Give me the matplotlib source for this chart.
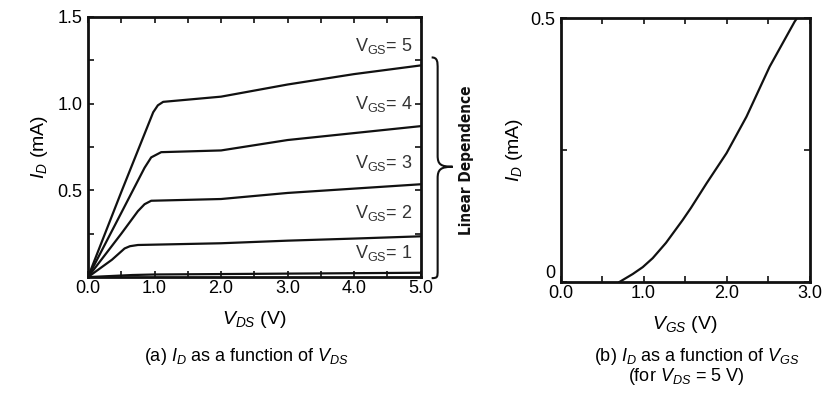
import matplotlib
matplotlib.use('Agg')
import matplotlib.pyplot as plt
from matplotlib.path import Path
from matplotlib.patches import PathPatch
from matplotlib.ticker import MultipleLocator, FixedLocator

plt.rcParams['font.family'] = ['Liberation Sans', 'DejaVu Sans']
plt.rcParams['mathtext.fontset'] = 'custom'
plt.rcParams['mathtext.rm'] = 'Liberation Sans'
plt.rcParams['mathtext.it'] = 'Liberation Sans:italic'

# (a) I_D vs V_DS, one curve per V_GS
vgs_levels = [1, 2, 3, 4, 5]
vds_1 = [0, 0.67, 1.0, 5.0]
id_1 = [0, 0.012, 0.015, 0.025]
vds_2 = [0, 0.36, 0.55, 0.63, 0.75, 2.0, 3.0, 4.0, 5.0]
id_2 = [0, 0.10, 0.165, 0.178, 0.185, 0.195, 0.21, 0.222, 0.235]
vds_3 = [0, 0.5, 0.75, 0.85, 0.95, 2.0, 3.0, 4.0, 5.0]
id_3 = [0, 0.25, 0.38, 0.42, 0.44, 0.45, 0.485, 0.51, 0.535]
vds_4 = [0, 0.5, 0.85, 0.95, 1.1, 2.0, 3.0, 4.0, 5.0]
id_4 = [0, 0.37, 0.63, 0.69, 0.72, 0.73, 0.79, 0.83, 0.87]
vds_5 = [0, 0.5, 0.98, 1.05, 1.13, 2.0, 3.0, 4.0, 5.0]
id_5 = [0, 0.49, 0.95, 0.99, 1.01, 1.04, 1.11, 1.17, 1.22]
label_y = [0.14, 0.37, 0.66, 1.0, 1.33]

# (b) I_D vs V_GS at V_DS = 5 V
vgs_b = [0.71, 0.87, 0.99, 1.11, 1.27, 1.47, 1.57, 1.76, 2.0, 2.24, 2.52, 2.82, 2.85]
id_b = [0, 0.015, 0.028, 0.045, 0.074, 0.117, 0.14, 0.187, 0.244, 0.313, 0.408, 0.493, 0.5]

fig = plt.figure(figsize=(8.38, 4.01), dpi=100)
ink = '#111111'

ax1 = fig.add_axes([0.105, 0.309, 0.397, 0.649])
ax2 = fig.add_axes([0.669, 0.297, 0.297, 0.658])

curves = [(vds_1, id_1), (vds_2, id_2), (vds_3, id_3), (vds_4, id_4), (vds_5, id_5)]
for (x, y) in curves:
    ax1.plot(x, y, color=ink, lw=1.6, solid_joinstyle='round')
for v, ly in zip(vgs_levels, label_y):
    ax1.text(4.88, ly, r'V$_{\rm GS}$= ' + str(v), ha='right', va='center',
             fontsize=13, color='#333333')

ax1.set_xlim(0, 5)
ax1.set_ylim(0, 1.5)
ax1.xaxis.set_major_locator(MultipleLocator(1.0))
ax1.xaxis.set_minor_locator(MultipleLocator(0.5))
ax1.yaxis.set_major_locator(FixedLocator([0.5, 1.0, 1.5]))
ax1.yaxis.set_minor_locator(FixedLocator([0.25, 0.75, 1.25]))
ax1.set_xticklabels(['%.1f' % v for v in ax1.get_xticks()])
ax1.set_xlabel(r'$V_{DS}$ (V)', fontsize=14, labelpad=9)
ax1.set_ylabel(r'$I_D$ (mA)', fontsize=14, labelpad=5)

# brace on the right of panel (a)
verts = [(5.165, 1.266), (5.255, 1.266), (5.255, 1.24), (5.255, 1.20),
         (5.255, 0.70),
         (5.255, 0.65), (5.30, 0.636), (5.48, 0.636),
         (5.30, 0.636), (5.255, 0.62), (5.255, 0.57),
         (5.255, 0.04),
         (5.255, 0.0), (5.255, -0.006), (5.165, -0.006)]
codes = [Path.MOVETO, Path.CURVE4, Path.CURVE4, Path.CURVE4,
         Path.LINETO,
         Path.CURVE4, Path.CURVE4, Path.CURVE4,
         Path.CURVE4, Path.CURVE4, Path.CURVE4,
         Path.LINETO,
         Path.CURVE4, Path.CURVE4, Path.CURVE4]
brace = PathPatch(Path(verts, codes), fill=False, lw=1.5, color=ink,
                  clip_on=False)
ax1.add_patch(brace)
fig.text(0.557, 0.60, 'Linear Dependence', rotation=90, ha='center',
         va='center', fontsize=11, fontweight='bold', fontstretch='condensed',
         family=['DejaVu Sans'], color=ink)

ax2.plot(vgs_b, id_b, color=ink, lw=1.6, solid_joinstyle='round')
ax2.set_xlim(0, 3)
ax2.set_ylim(0, 0.5)
ax2.xaxis.set_major_locator(MultipleLocator(1.0))
ax2.xaxis.set_minor_locator(MultipleLocator(0.5))
ax2.yaxis.set_major_locator(FixedLocator([0, 0.5]))
ax2.yaxis.set_minor_locator(FixedLocator([0.25]))
ax2.set_xticklabels(['%.1f' % v for v in ax2.get_xticks()])
ax2.set_yticklabels(['0', '0.5'])
ax2.get_yticklabels()[0].set_va('bottom')
ax2.set_xlabel(r'$V_{GS}$ (V)', fontsize=14, labelpad=9)
ax2.set_ylabel(r'$I_D$ (mA)', fontsize=14, labelpad=4)

for ax in (ax1, ax2):
    for s in ax.spines.values():
        s.set_linewidth(2.0)
        s.set_color(ink)
    ax.tick_params(which='both', direction='in', top=True, right=True,
                   width=1.2, color=ink)
    ax.tick_params(which='major', length=4, labelsize=13, pad=2)
    ax.tick_params(which='minor', length=4)
    ax.tick_params(axis='y', pad=4)

fig.text(0.294, 0.112, r'(a) $I_D$ as a function of $V_{DS}$', ha='center',
         va='center', fontsize=13)
fig.text(0.832, 0.112, r'(b) $I_D$ as a function of $V_{GS}$', ha='center',
         va='center', fontsize=13)
fig.text(0.819, 0.062, r'(for $V_{DS}$ = 5 V)', ha='center', va='center',
         fontsize=13)

fig.savefig('out.png', dpi=100)
